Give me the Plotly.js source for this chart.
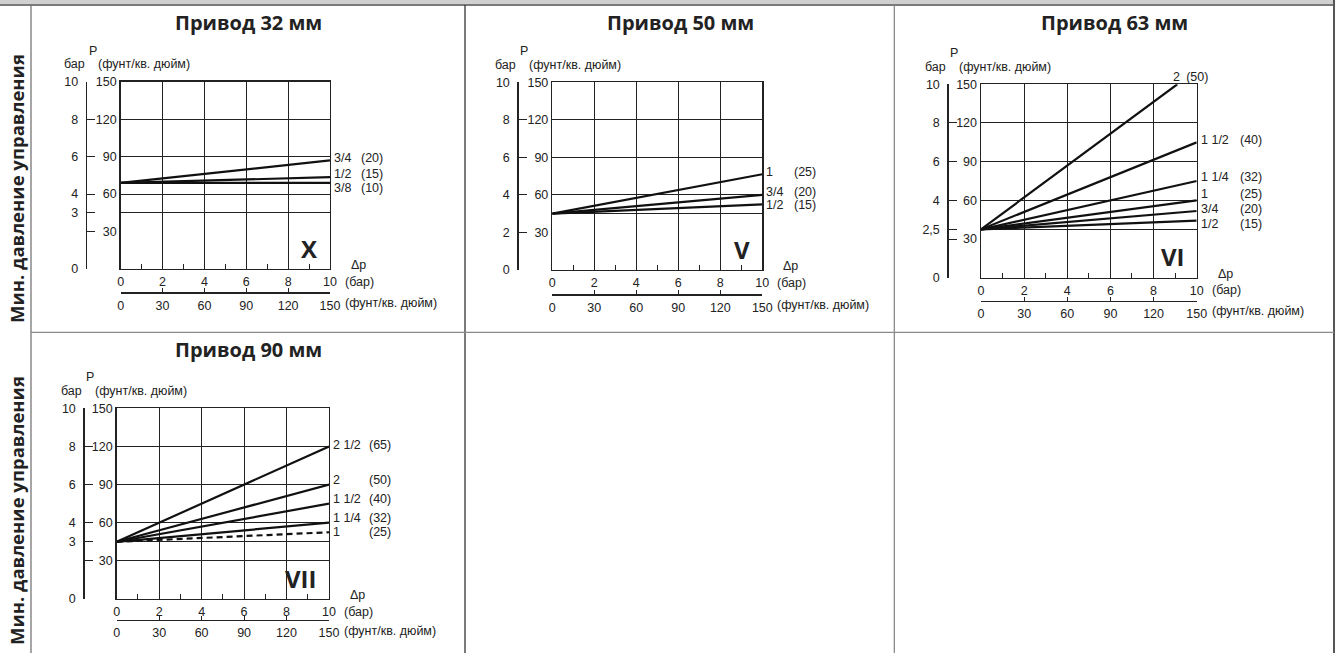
<!DOCTYPE html>
<html>
<head>
<meta charset="utf-8">
<script src="https://cdn.plot.ly/plotly-3.0.1.min.js"></script>
<style>
html,body{margin:0;padding:0;background:#fff;}
#chart{width:1341px;height:653px;}
</style>
</head>
<body>
<div id="chart"></div>
<script>
// ================= DATA =================
const panelTitles = ["Привод 32 мм", "Привод 50 мм", "Привод 63 мм", "Привод 90 мм"];
const panelMarks = ["X", "V", "VI", "VII"];
const sideLabel = "Мин. давление управления";
const unitP = "P";
const unitBar = "бар";
const unitPsi = "(фунт/кв. дюйм)";
const unitDp = "Δp";
const unitBarParen = "(бар)";

// Δp axis (bar) and its psi twin
const dpAllTicks = [0, 1, 2, 3, 4, 5, 6, 7, 8, 9, 10];
const dpAllText = ["0", "", "2", "", "4", "", "6", "", "8", "", "10"];
const dpGrid = [2, 4, 6, 8];
const dpPsiTicks = [0, 30, 60, 90, 120, 150];
// P axis psi labels
const pPsiTicks = [30, 60, 90, 120, 150];

// Panel X – Привод 32 мм
const xSizes = ["3/4", "1/2", "3/8"];
const xDn = ["(20)", "(15)", "(10)"];
const xStartP = 4.6;
const xEndDp = [10, 10, 10];
const xEndP = [5.8, 4.9, 4.6];
const xPBarTicks = [0, 2, 3, 4, 6, 8, 10];
const xPBarText = ["0", "", "3", "4", "6", "8", "10"];
const xGrid = [3, 4, 6, 8];

// Panel V – Привод 50 мм
const vSizes = ["1", "3/4", "1/2"];
const vDn = ["(25)", "(20)", "(15)"];
const vStartP = 3;
const vEndDp = [10, 10, 10];
const vEndP = [5.1, 4.0, 3.5];
const vPBarTicks = [0, 2, 4, 6, 8, 10];
const vPBarText = ["0", "2", "4", "6", "8", "10"];
const vGrid = [3, 4, 6, 8];

// Panel VI – Привод 63 мм
const viSizes = ["2", "1 1/2", "1 1/4", "1", "3/4", "1/2"];
const viDn = ["(50)", "(40)", "(32)", "(25)", "(20)", "(15)"];
const viStartP = 2.5;
const viEndDp = [9.1, 10, 10, 10, 10, 10];
const viEndP = [10, 7.0, 5.0, 4.0, 3.45, 2.95];
const viPBarTicks = [0, 2, 2.5, 4, 6, 8, 10];
const viPBarText = ["0", "", "2,5", "4", "6", "8", "10"];
const viGrid = [2.5, 4, 6, 8];

// Panel VII – Привод 90 мм
const viiSizes = ["2 1/2", "2", "1 1/2", "1 1/4", "1"];
const viiDn = ["(65)", "(50)", "(40)", "(32)", "(25)"];
const viiStartP = 3;
const viiEndDp = [10, 10, 10, 10, 10];
const viiEndP = [8.0, 6.0, 5.0, 4.0, 3.5];
const viiPBarTicks = [0, 2, 3, 4, 6, 8, 10];
const viiPBarText = ["0", "", "3", "4", "6", "8", "10"];
const viiGrid = [2, 3, 4, 6, 8];

// ================= LAYOUT / STYLE =================
const W = 1341, H = 653;
const ink = '#222';
const tickFont = {family: '"Liberation Sans", Arial, sans-serif', size: 12.5, color: ink};
const boldFam = '"Open Sans", "Noto Sans", sans-serif';

const geo = [
  {fx0: 120.7, fx1: 330,   fy0: 81.7,  fy1: 269,   axX: 85.7,  psiY: 292.3, titleX: 248,  titleY: 23,  dnDx: 29, labelDy: [2, 3, -5]},
  {fx0: 552.3, fx1: 762.3, fy0: 82.3,  fy1: 270,   axX: 517.3, psiY: 294.3, titleX: 680,  titleY: 23,  dnDx: 30, labelDy: [2, 3, -1]},
  {fx0: 981,   fx1: 1196.7,fy0: 84.3,  fy1: 277.7, axX: 947.3, psiY: 300.7, titleX: 1114, titleY: 23,  dnDx: 41, labelDy: [0, 2, 4, 6, 2, -3]},
  {fx0: 116.7, fx1: 329,   fy0: 408.3, fy1: 599,   axX: 83.3,  psiY: 620,   titleX: 248,  titleY: 349, dnDx: 38, labelDy: [1.5, 5, 5, 5, 0], dashed: [4]}
];

const panels = [
  {title: panelTitles[0], mark: panelMarks[0], sizes: xSizes, dn: xDn, p0: xStartP, endDp: xEndDp, endP: xEndP, barTicks: xPBarTicks, barText: xPBarText, grid: xGrid},
  {title: panelTitles[1], mark: panelMarks[1], sizes: vSizes, dn: vDn, p0: vStartP, endDp: vEndDp, endP: vEndP, barTicks: vPBarTicks, barText: vPBarText, grid: vGrid},
  {title: panelTitles[2], mark: panelMarks[2], sizes: viSizes, dn: viDn, p0: viStartP, endDp: viEndDp, endP: viEndP, barTicks: viPBarTicks, barText: viPBarText, grid: viGrid},
  {title: panelTitles[3], mark: panelMarks[3], sizes: viiSizes, dn: viiDn, p0: viiStartP, endDp: viiEndDp, endP: viiEndP, barTicks: viiPBarTicks, barText: viiPBarText, grid: viiGrid}
];

const traces = [];
const annotations = [];
const layout = {
  width: W, height: H,
  margin: {l: 0, r: 0, t: 0, b: 0, pad: 0},
  paper_bgcolor: '#fff',
  plot_bgcolor: 'rgba(0,0,0,0)',
  showlegend: false,
  hovermode: false,
  font: tickFont
};

function axName(letter, n) { return letter + 'axis' + (n > 1 ? n : ''); }
function axRef(letter, n) { return letter + (n > 1 ? n : ''); }
function ann(x, y, text, xanchor, extra) {
  annotations.push(Object.assign({
    xref: 'paper', yref: 'paper', x: x / W, y: 1 - y / H, text: text,
    showarrow: false, xanchor: xanchor, yanchor: 'middle', font: tickFont
  }, extra || {}));
}
function helper(xa, ya) {
  traces.push({type: 'scatter', mode: 'lines', x: [], y: [], xaxis: xa, yaxis: ya, hoverinfo: 'skip', showlegend: false});
}

panels.forEach((p, k) => {
  const g = geo[k];
  const n = k + 1;
  const xm = axRef('x', n), ym = axRef('y', n);
  const xPsi = axRef('x', n + 4), xGridAx = axRef('x', n + 8);
  const yPsi = axRef('y', n + 4), yBar = axRef('y', n + 8);
  const xdom = [g.fx0 / W, g.fx1 / W];
  const ydom = [1 - g.fy1 / H, 1 - g.fy0 / H];

  // frame + Δp (bar) labels + inner ticks
  layout[axName('x', n)] = {
    domain: xdom, anchor: ym, range: [0, 10], fixedrange: true,
    showline: true, mirror: true, linecolor: ink, linewidth: 1.3,
    tickmode: 'array', tickvals: dpAllTicks, ticktext: dpAllText,
    ticks: 'inside', ticklen: 5, tickcolor: ink, tickwidth: 1,
    showgrid: false, zeroline: false,
    tickfont: tickFont, ticklabelstandoff: 1
  };
  // vertical grid
  layout[axName('x', n + 8)] = {
    overlaying: xm, anchor: ym, domain: xdom, range: [0, 10], fixedrange: true,
    tickmode: 'array', tickvals: dpGrid, ticks: '', showticklabels: false,
    showline: false, showgrid: true, gridcolor: ink, gridwidth: 1, zeroline: false
  };
  // frame + horizontal grid
  layout[axName('y', n)] = {
    domain: ydom, anchor: xm, range: [0, 10], fixedrange: true,
    showline: true, mirror: true, linecolor: ink, linewidth: 1.3,
    tickmode: 'array', tickvals: p.grid, showticklabels: false, ticks: '',
    showgrid: true, gridcolor: ink, gridwidth: 1, zeroline: false
  };
  // Δp psi axis
  layout[axName('x', n + 4)] = {
    overlaying: xm, anchor: 'free', position: 1 - g.psiY / H, domain: xdom,
    range: [0, 150], fixedrange: true, side: 'bottom',
    tickmode: 'array', tickvals: dpPsiTicks, ticks: 'inside', ticklen: 4, tickcolor: ink, tickwidth: 1,
    showline: true, linecolor: ink, linewidth: 1.3, showgrid: false, zeroline: false,
    tickfont: tickFont, ticklabelstandoff: 1
  };
  // P psi labels
  layout[axName('y', n + 4)] = {
    overlaying: ym, anchor: 'free', position: g.fx0 / W, domain: ydom,
    range: [0, 150], fixedrange: true, side: 'left',
    tickmode: 'array', tickvals: pPsiTicks, ticks: '',
    showline: false, showgrid: false, zeroline: false,
    tickfont: tickFont, ticklabelstandoff: 4
  };
  // P bar axis (separate line)
  layout[axName('y', n + 8)] = {
    overlaying: ym, anchor: 'free', position: g.axX / W, domain: ydom,
    range: [0, 10], fixedrange: true, side: 'left',
    tickmode: 'array', tickvals: p.barTicks, ticktext: p.barText,
    ticks: 'inside', ticklen: 8, tickcolor: ink, tickwidth: 1,
    showline: true, linecolor: ink, linewidth: 1.3, showgrid: false, zeroline: false,
    tickfont: tickFont, ticklabelstandoff: 5
  };

  helper(xPsi, ym);
  helper(xGridAx, ym);
  helper(xm, yPsi);
  helper(xm, yBar);

  // curves
  p.sizes.forEach((s, i) => {
    const dashed = g.dashed && g.dashed.indexOf(i) >= 0;
    traces.push({
      type: 'scatter', mode: 'lines',
      x: [0, p.endDp[i]], y: [p.p0, p.endP[i]],
      xaxis: xm, yaxis: ym, cliponaxis: false,
      line: {color: '#111', width: 2.2, dash: dashed ? '6px,4px' : 'solid'},
      hoverinfo: 'skip', showlegend: false
    });
    if (p.endDp[i] < 10) {
      annotations.push({xref: xm, yref: ym, x: p.endDp[i], y: p.endP[i],
        text: s + '\u2002' + p.dn[i], showarrow: false, xanchor: 'left', yanchor: 'bottom',
        xshift: -6, yshift: -2, font: tickFont});
    } else {
      annotations.push({xref: xm, yref: ym, x: p.endDp[i], y: p.endP[i],
        text: s, showarrow: false, xanchor: 'left', yanchor: 'middle',
        xshift: 2, yshift: g.labelDy[i], font: tickFont});
      annotations.push({xref: xm, yref: ym, x: p.endDp[i], y: p.endP[i],
        text: p.dn[i], showarrow: false, xanchor: 'left', yanchor: 'middle',
        xshift: g.dnDx, yshift: g.labelDy[i], font: tickFont});
    }
  });

  // axis unit texts
  ann(g.axX, g.fy0 - 31, unitP, 'left', {xshift: 1});
  ann(g.axX, g.fy0 - 17.5, unitBar, 'right', {xshift: 1});
  ann(g.axX + 10, g.fy0 - 17.5, unitPsi, 'left');
  ann(g.fx1 + 19, g.fy1 - 4, unitDp, 'left');
  ann(g.fx1 + 13, g.fy1 + 12.5, unitBarParen, 'left');
  ann(g.fx1 + 13, g.psiY + 10.5, unitPsi, 'left');
  // big panel mark & title
  ann(g.fx1 - 10, g.fy1 - 21, '<b>' + p.mark + '</b>', 'right', {font: {family: boldFam, size: 24, color: ink}});
  ann(g.titleX, g.titleY, '<b>' + p.title + '</b>', 'center', {font: {family: boldFam, size: 20, color: ink}});
});

// rotated row labels
[189, 511].forEach(yc => ann(16, yc, '<b>' + sideLabel + '</b>', 'center', {textangle: -90, font: {family: boldFam, size: 18.5, color: ink}}));

// table frame
const px = v => v / W, py = v => 1 - v / H;
layout.shapes = [
  {type: 'rect', xref: 'paper', yref: 'paper', x0: 0, x1: px(1334), y0: py(0), y1: py(4.5), fillcolor: '#d0d0d0', line: {width: 0}},
  {type: 'line', xref: 'paper', yref: 'paper', x0: 0, x1: px(1334), y0: py(5), y1: py(5), line: {color: '#7a7a7a', width: 2}},
  {type: 'line', xref: 'paper', yref: 'paper', x0: px(31), x1: px(31), y0: py(5), y1: py(653), line: {color: '#6a6a6a', width: 1.2}},
  {type: 'line', xref: 'paper', yref: 'paper', x0: px(465), x1: px(465), y0: py(5), y1: py(653), line: {color: '#333', width: 1.3}},
  {type: 'line', xref: 'paper', yref: 'paper', x0: px(894.3), x1: px(894.3), y0: py(5), y1: py(653), line: {color: '#808080', width: 1.2}},
  {type: 'line', xref: 'paper', yref: 'paper', x0: px(1334), x1: px(1334), y0: py(0), y1: py(653), line: {color: '#555', width: 2}},
  {type: 'line', xref: 'paper', yref: 'paper', x0: px(31), x1: px(1334), y0: py(332.3), y1: py(332.3), line: {color: '#8a8a8a', width: 1.2}}
];
layout.annotations = annotations;

Plotly.newPlot('chart', traces, layout, {staticPlot: true, displayModeBar: false});
</script>
</body>
</html>
